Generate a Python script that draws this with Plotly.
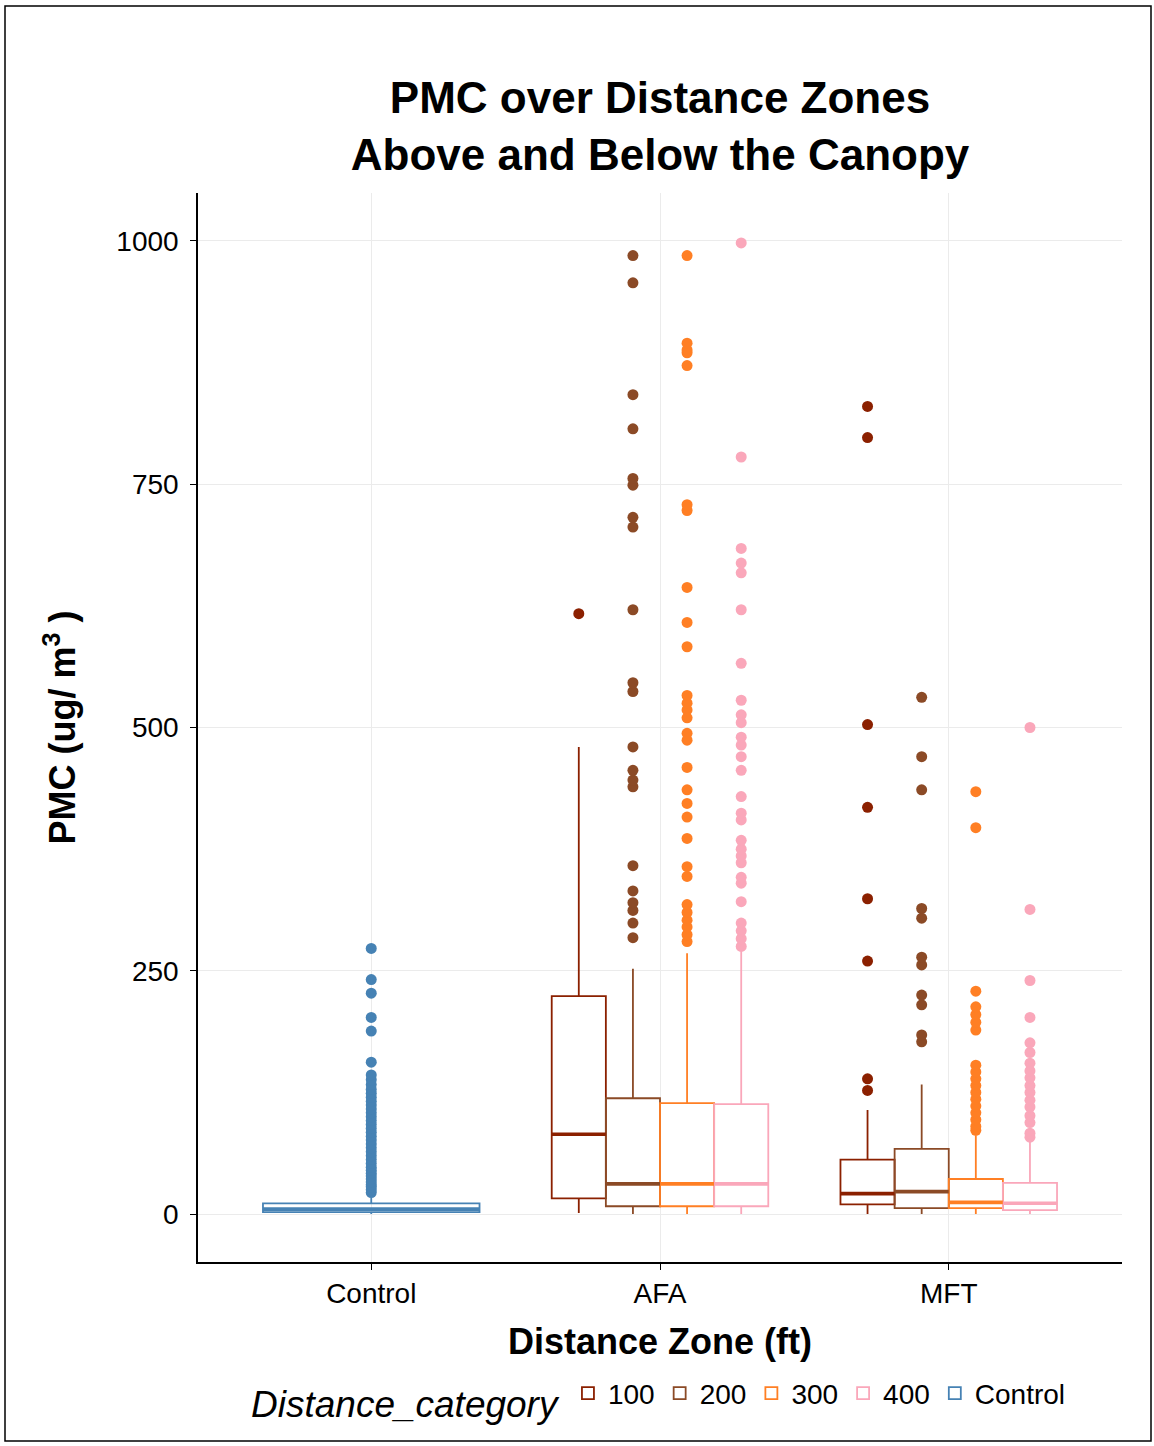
import plotly.graph_objects as go

# ---------------- data ----------------
zones = ["Control", "AFA", "MFT"]
categories = ["100", "200", "300", "400"]
colors = {"100": "#8B2000", "200": "#8B4A26", "300": "#FF7F24", "400": "#FAA7BA", "Control": "#4682B4"}

# precomputed box statistics per category for zones AFA, MFT
q1 = {"100": [16, 10], "200": [8, 6], "300": [8, 6], "400": [8, 4]}
median = {"100": [82, 21], "200": [31, 23], "300": [31, 12], "400": [31, 11]}
q3 = {"100": [224, 56], "200": [119, 67], "300": [114, 36], "400": [113, 32]}
lowerfence = {"100": [1, 0], "200": [0, 0], "300": [0, 0], "400": [0, 0]}
upperfence = {"100": [480, 107], "200": [252, 133], "300": [268, 81], "400": [270, 76]}

outliers = {
    "100": [
        [617],
        [830, 798, 503, 418, 324, 260, 139, 127],
    ],
    "200": [
        [985, 957, 842, 807, 756, 749, 716, 706, 621, 546, 537, 480, 456, 446, 439,
         358, 332, 320, 312, 299, 284],
        [531, 470, 436, 314, 304, 264, 256, 225, 215, 184, 177],
    ],
    "300": [
        [985, 895, 888, 885, 872, 729, 723, 644, 608, 583, 533, 525, 518, 510, 494, 487,
         459, 436, 422, 408, 386, 357, 347, 318, 310, 302, 295, 287, 280],
        [434, 397, 229, 213, 205, 197, 189, 153, 146, 139, 132, 125, 118, 111, 104, 97, 90, 86],
    ],
    "400": [
        [998, 778, 684, 669, 659, 621, 566, 528, 513, 505, 490, 482, 470, 456, 429, 412,
         405, 384, 375, 368, 361, 346, 340, 321, 299, 291, 283, 275],
        [500, 313, 240, 202, 176, 166, 155, 147, 140, 132, 125, 117, 110, 101, 94, 83, 79],
    ],
}

control_stats = dict(q1=2, median=5, q3=11, lowerfence=0, upperfence=17)
control_outliers = [273, 241, 227, 202, 188, 156, 143, 138, 133, 128, 124, 120, 116, 112,
                    108, 104, 100, 96, 92, 88, 84, 80, 76, 72, 68, 64, 60, 56, 52, 48, 45,
                    42, 39, 36, 33, 30, 28, 25, 22]

y_ticks = [0, 250, 500, 750, 1000]

# ---------------- figure ----------------
FONT = "Liberation Sans, Arial, Helvetica, sans-serif"
BOX_GAP = 0.25
fig = go.Figure()

for c in categories:
    fig.add_trace(go.Box(
        name=c, legendgroup=c,
        x=zones[1:],
        q1=q1[c], median=median[c], q3=q3[c],
        lowerfence=lowerfence[c], upperfence=upperfence[c],
        y=outliers[c],
        boxpoints="all", pointpos=0, jitter=0,
        offsetgroup=c,
        line=dict(color=colors[c], width=1.8),
        fillcolor="rgba(255,255,255,0)",
        marker=dict(color=colors[c], size=11, line=dict(width=0)),
        whiskerwidth=0,
    ))

# Control is the only box at its position, so it takes the whole dodge width
fig.add_trace(go.Box(
    name="Control", legendgroup="Control",
    x=["Control"],
    q1=[control_stats["q1"]], median=[control_stats["median"]], q3=[control_stats["q3"]],
    lowerfence=[control_stats["lowerfence"]], upperfence=[control_stats["upperfence"]],
    y=[control_outliers],
    boxpoints="all", pointpos=0, jitter=0,
    width=1 - BOX_GAP,
    line=dict(color=colors["Control"], width=1.8),
    fillcolor="rgba(255,255,255,0)",
    marker=dict(color=colors["Control"], size=11, line=dict(width=0)),
    whiskerwidth=0,
))

# thicker median bars (ggplot style) drawn as zero-height boxes at the medians
for c in categories:
    fig.add_trace(go.Box(
        name=c, legendgroup=c, showlegend=False,
        x=zones[1:],
        q1=median[c], median=median[c], q3=median[c],
        lowerfence=median[c], upperfence=median[c],
        boxpoints=False, offsetgroup=c,
        line=dict(color=colors[c], width=3.6),
        fillcolor="rgba(255,255,255,0)",
        whiskerwidth=0, hoverinfo="skip",
    ))
fig.add_trace(go.Box(
    name="Control", legendgroup="Control", showlegend=False,
    x=["Control"],
    q1=[control_stats["median"]], median=[control_stats["median"]], q3=[control_stats["median"]],
    lowerfence=[control_stats["median"]], upperfence=[control_stats["median"]],
    boxpoints=False, width=1 - BOX_GAP,
    line=dict(color=colors["Control"], width=3.6),
    fillcolor="rgba(255,255,255,0)",
    whiskerwidth=0, hoverinfo="skip",
))

L, R, T, B = 198, 32, 193, 184
W, H = 1154, 1446
pw, ph = W - L - R, H - T - B

def px_x(p):
    return (p - L) / pw

def px_y(p):
    return (H - B - p) / ph

fig.update_layout(
    width=W, height=H,
    margin=dict(l=L, r=R, t=T, b=B, autoexpand=False),
    paper_bgcolor="white", plot_bgcolor="white",
    font=dict(family=FONT, color="black", size=28),
    boxmode="group", boxgap=BOX_GAP, boxgroupgap=0,
    title=dict(
        text="<b>PMC over Distance Zones<br>Above and Below the Canopy</b>",
        font=dict(size=44, family=FONT, color="black"),
        x=0.5, xref="paper", xanchor="center",
        y=1 - 113 / H, yref="container", yanchor="middle",
    ),
    xaxis=dict(
        type="category", categoryorder="array", categoryarray=zones,
        range=[-0.6, 2.6],
        showline=True, linecolor="black", linewidth=1.5,
        ticks="outside", ticklen=6, tickcolor="black", tickwidth=1.2,
        showgrid=True, gridcolor="#EBEBEB", gridwidth=1.2,
        tickfont=dict(size=28),
        title=dict(text="<b>Distance Zone (ft)</b>", font=dict(size=36), standoff=20),
        zeroline=False,
    ),
    yaxis=dict(
        range=[-49.3, 1049.3],
        tickvals=y_ticks, ticktext=[str(v) for v in y_ticks],
        showline=True, linecolor="black", linewidth=1.5,
        ticks="outside", ticklen=6, tickcolor="black", tickwidth=1.2,
        showgrid=True, gridcolor="#EBEBEB", gridwidth=1.2,
        tickfont=dict(size=28), ticklabelstandoff=6,
        title=dict(text="<b>PMC (ug/ m<sup>3</sup> )</b>", font=dict(size=36), standoff=30),
        zeroline=False,
    ),
    legend=dict(
        orientation="h", x=0.5, xanchor="center",
        y=px_y(1398), yanchor="middle",
        font=dict(size=28),
        title=dict(text="<i>Distance_category</i>", font=dict(size=37), side="left"),
        itemwidth=30, tracegroupgap=0,
        bgcolor="rgba(0,0,0,0)",
    ),
    showlegend=True,
)

fig.add_shape(
    type="rect", xref="paper", yref="paper",
    x0=px_x(5), x1=px_x(1151), y0=px_y(1441), y1=px_y(6),
    line=dict(color="black", width=1.5), fillcolor="rgba(0,0,0,0)", layer="below",
)

fig.write_html("out.html")
